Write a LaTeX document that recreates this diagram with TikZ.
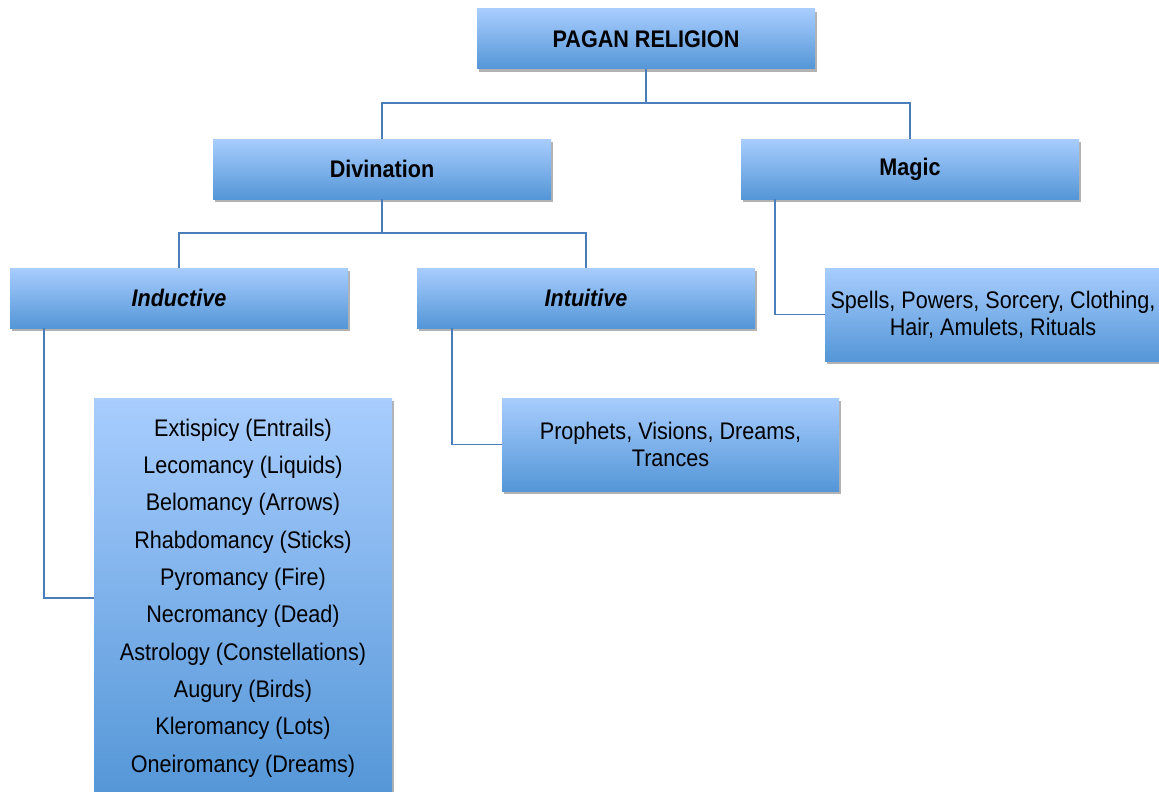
\documentclass[tikz,border=0pt]{standalone}
\usepackage{fontspec}
\setmainfont{Liberation Sans}[FakeStretch=0.9]
\usetikzlibrary{shadows,calc}
\definecolor{linec}{RGB}{74,126,187}
\definecolor{topc}{RGB}{168,205,254}
\definecolor{botc}{RGB}{84,150,215}
\tikzset{
  box/.style={draw=none, top color=topc, bottom color=botc, inner sep=2pt,
    drop shadow={shadow xshift=2pt, shadow yshift=-3pt, opacity=0.3, fill=black},
    font=\fontsize{24}{27}\selectfont, align=center},
  head/.style={box, minimum width=338pt, minimum height=60pt, font=\fontsize{24}{27}\selectfont\bfseries},
  conn/.style={draw=linec, line width=1.6pt}
}
\begin{document}
\begin{tikzpicture}[x=1pt,y=-1pt]
\useasboundingbox (0,0) rectangle (1159,792);
\clip (0,0) rectangle (1159,792);
\node[head] (pagan) at (646,39) {PAGAN RELIGION};
\node[head] (div) at (382,169) {Divination};
\node[head] (magic) at (910,169) {Magic};
\node[head, font=\fontsize{24}{27}\selectfont\bfseries\itshape] (ind) at (179,298) {Inductive};
\node[head, font=\fontsize{24}{27}\selectfont\bfseries\itshape] (intu) at (586,298) {Intuitive};
\node[box, minimum width=336pt, minimum height=93pt] (magicd) at (993,314.5) {Spells, Powers, Sorcery, Clothing,\\Hair, Amulets, Rituals};
\node[box, minimum width=337pt, minimum height=93pt] (intud) at (670.5,444.5) {Prophets, Visions, Dreams,\\Trances};
\node[box, minimum width=298pt, minimum height=400pt, font=\fontsize{24}{37.3}\selectfont] (list) at (243,598)
 {Extispicy (Entrails)\\Lecomancy (Liquids)\\Belomancy (Arrows)\\Rhabdomancy (Sticks)\\Pyromancy (Fire)\\Necromancy (Dead)\\Astrology (Constellations)\\Augury (Birds)\\Kleromancy (Lots)\\Oneiromancy (Dreams)};
\draw[conn] (pagan.south) -- +(0,34) -| (div.north);
\draw[conn] (pagan.south) -- +(0,34) -| (magic.north);
\draw[conn] (div.south) -- +(0,34) -| (ind.north);
\draw[conn] (div.south) -- +(0,34) -| (intu.north);
\coordinate (mstart) at ($(magic.south west)+(34,0)$);
\draw[conn] (mstart) |- (magicd.west);
\coordinate (istart) at ($(intu.south west)+(35,0)$);
\draw[conn] (istart) |- (intud.west);
\coordinate (dstart) at ($(ind.south west)+(34,0)$);
\draw[conn] (dstart) |- (list.west);
\end{tikzpicture}
\end{document}
